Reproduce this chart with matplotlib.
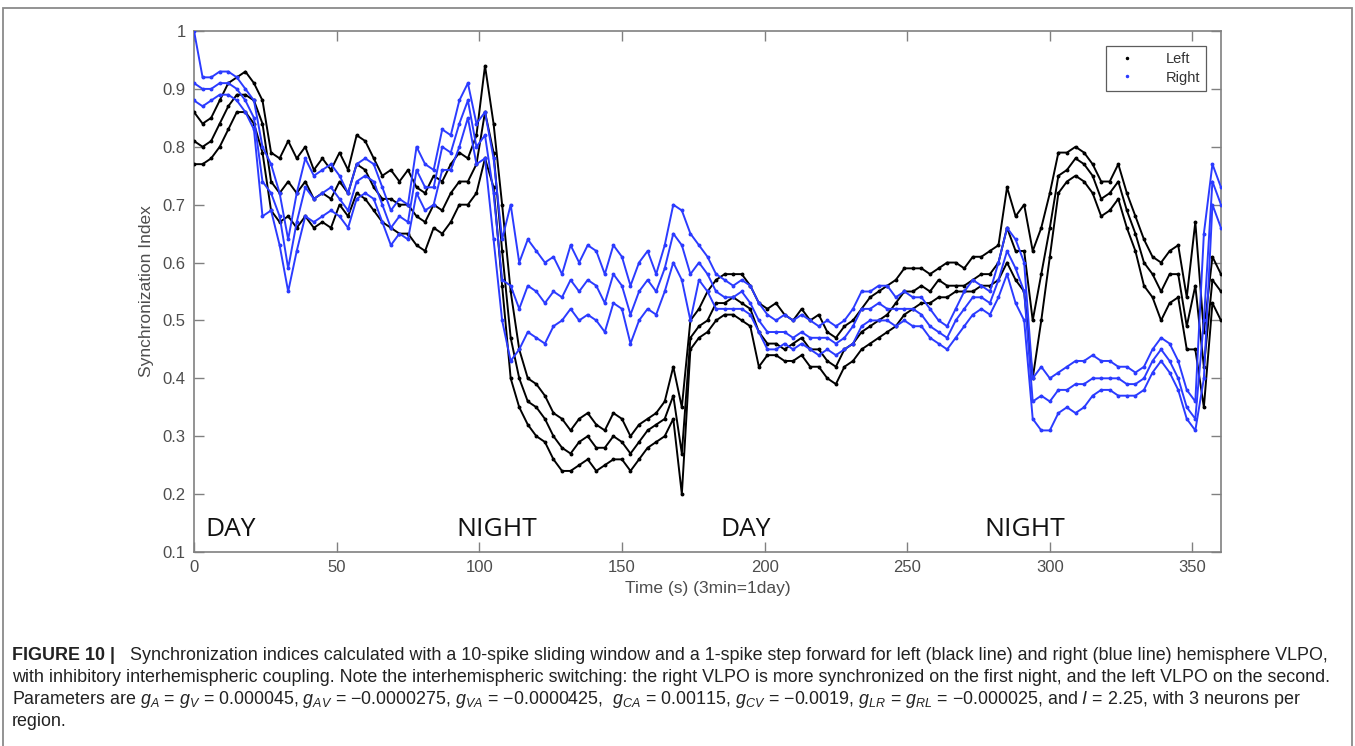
import matplotlib
matplotlib.use("Agg")
import matplotlib.pyplot as plt
from matplotlib.patches import Rectangle
import numpy as np

plt.rcParams["font.family"] = ["Liberation Sans", "DejaVu Sans"]
plt.rcParams["mathtext.fontset"] = "custom"
plt.rcParams["mathtext.rm"] = "Liberation Sans"
plt.rcParams["mathtext.it"] = "Liberation Sans:italic"

# ── data: synchronization index, every 3 s ───────────────────────────────
time_s = np.arange(0, 361, 3)

left_hi = [0.86, 0.84, 0.85, 0.88, 0.91, 0.92, 0.93, 0.91, 0.88, 0.79, 0.78, 0.81, 0.78, 0.80, 0.76, 0.78,
           0.76, 0.79, 0.76, 0.82, 0.81, 0.78, 0.75, 0.76, 0.74, 0.76, 0.73, 0.72, 0.75, 0.74, 0.77, 0.79,
           0.78, 0.82, 0.94, 0.84, 0.70, 0.55, 0.45, 0.40, 0.39, 0.37, 0.34, 0.33, 0.31, 0.33, 0.34, 0.32,
           0.31, 0.34, 0.33, 0.30, 0.32, 0.33, 0.34, 0.36, 0.42, 0.35, 0.50, 0.52, 0.55, 0.57, 0.58, 0.58,
           0.58, 0.56, 0.53, 0.52, 0.53, 0.51, 0.50, 0.52, 0.50, 0.51, 0.48, 0.47, 0.49, 0.50, 0.52, 0.54,
           0.55, 0.56, 0.57, 0.59, 0.59, 0.59, 0.58, 0.59, 0.60, 0.60, 0.59, 0.61, 0.61, 0.62, 0.63, 0.73,
           0.68, 0.70, 0.62, 0.66, 0.72, 0.79, 0.79, 0.80, 0.79, 0.77, 0.74, 0.74, 0.77, 0.72, 0.68, 0.64,
           0.61, 0.60, 0.62, 0.63, 0.54, 0.67, 0.48, 0.61, 0.58]
left_mid = [0.81, 0.80, 0.81, 0.84, 0.87, 0.89, 0.89, 0.88, 0.84, 0.74, 0.72, 0.74, 0.72, 0.74, 0.71, 0.72,
            0.71, 0.74, 0.72, 0.77, 0.76, 0.73, 0.71, 0.71, 0.70, 0.70, 0.68, 0.67, 0.70, 0.69, 0.72, 0.74,
            0.74, 0.77, 0.86, 0.79, 0.62, 0.47, 0.40, 0.36, 0.35, 0.33, 0.30, 0.28, 0.27, 0.29, 0.30, 0.28,
            0.28, 0.30, 0.29, 0.27, 0.29, 0.31, 0.32, 0.33, 0.37, 0.27, 0.47, 0.49, 0.50, 0.53, 0.53, 0.54,
            0.53, 0.52, 0.48, 0.46, 0.46, 0.45, 0.46, 0.47, 0.45, 0.45, 0.43, 0.42, 0.45, 0.46, 0.48, 0.49,
            0.50, 0.51, 0.53, 0.55, 0.55, 0.56, 0.55, 0.57, 0.56, 0.56, 0.56, 0.57, 0.58, 0.58, 0.60, 0.66,
            0.62, 0.62, 0.50, 0.58, 0.66, 0.75, 0.76, 0.78, 0.77, 0.75, 0.71, 0.72, 0.74, 0.69, 0.65, 0.60,
            0.58, 0.55, 0.58, 0.58, 0.49, 0.56, 0.42, 0.57, 0.55]
left_lo = [0.77, 0.77, 0.78, 0.80, 0.83, 0.86, 0.86, 0.84, 0.79, 0.69, 0.67, 0.68, 0.66, 0.68, 0.66, 0.67,
           0.66, 0.70, 0.68, 0.72, 0.71, 0.69, 0.67, 0.66, 0.65, 0.65, 0.63, 0.62, 0.66, 0.65, 0.67, 0.70,
           0.70, 0.72, 0.78, 0.73, 0.56, 0.40, 0.35, 0.32, 0.30, 0.29, 0.26, 0.24, 0.24, 0.25, 0.26, 0.24,
           0.25, 0.26, 0.26, 0.24, 0.26, 0.28, 0.29, 0.30, 0.33, 0.20, 0.45, 0.47, 0.48, 0.50, 0.51, 0.51,
           0.50, 0.49, 0.42, 0.44, 0.44, 0.43, 0.43, 0.44, 0.42, 0.42, 0.40, 0.39, 0.42, 0.43, 0.45, 0.46,
           0.47, 0.48, 0.49, 0.51, 0.52, 0.53, 0.53, 0.54, 0.54, 0.55, 0.55, 0.55, 0.56, 0.56, 0.57, 0.60,
           0.57, 0.55, 0.40, 0.50, 0.61, 0.72, 0.74, 0.75, 0.74, 0.72, 0.68, 0.69, 0.71, 0.66, 0.62, 0.56,
           0.54, 0.50, 0.53, 0.54, 0.45, 0.45, 0.35, 0.53, 0.50]

right_hi = [1.00, 0.92, 0.92, 0.93, 0.93, 0.92, 0.90, 0.88, 0.80, 0.77, 0.72, 0.64, 0.72, 0.78, 0.75, 0.76,
            0.77, 0.75, 0.72, 0.77, 0.78, 0.77, 0.73, 0.69, 0.71, 0.70, 0.80, 0.77, 0.76, 0.83, 0.82, 0.88,
            0.91, 0.84, 0.86, 0.78, 0.64, 0.70, 0.60, 0.64, 0.62, 0.60, 0.61, 0.58, 0.63, 0.60, 0.63, 0.62,
            0.58, 0.63, 0.61, 0.56, 0.60, 0.62, 0.58, 0.63, 0.70, 0.69, 0.65, 0.63, 0.61, 0.58, 0.57, 0.56,
            0.57, 0.56, 0.53, 0.51, 0.50, 0.51, 0.50, 0.51, 0.50, 0.49, 0.50, 0.49, 0.50, 0.52, 0.55, 0.55,
            0.56, 0.56, 0.54, 0.55, 0.54, 0.54, 0.52, 0.50, 0.49, 0.52, 0.55, 0.57, 0.56, 0.55, 0.60, 0.66,
            0.64, 0.60, 0.40, 0.42, 0.40, 0.41, 0.42, 0.43, 0.43, 0.44, 0.43, 0.43, 0.42, 0.42, 0.41, 0.42,
            0.45, 0.47, 0.46, 0.43, 0.38, 0.36, 0.65, 0.77, 0.73]
right_mid = [0.91, 0.90, 0.90, 0.91, 0.91, 0.90, 0.88, 0.85, 0.74, 0.72, 0.68, 0.59, 0.67, 0.73, 0.71, 0.72,
             0.73, 0.71, 0.69, 0.74, 0.75, 0.74, 0.70, 0.66, 0.68, 0.67, 0.76, 0.73, 0.73, 0.80, 0.79, 0.84,
             0.88, 0.80, 0.82, 0.72, 0.57, 0.56, 0.52, 0.56, 0.55, 0.53, 0.55, 0.54, 0.57, 0.55, 0.57, 0.56,
             0.53, 0.58, 0.56, 0.51, 0.55, 0.57, 0.55, 0.59, 0.65, 0.63, 0.58, 0.60, 0.58, 0.55, 0.54, 0.54,
             0.55, 0.53, 0.50, 0.48, 0.48, 0.48, 0.47, 0.48, 0.47, 0.47, 0.47, 0.46, 0.47, 0.49, 0.52, 0.52,
             0.53, 0.52, 0.52, 0.52, 0.52, 0.51, 0.49, 0.48, 0.47, 0.50, 0.52, 0.54, 0.54, 0.53, 0.57, 0.62,
             0.59, 0.55, 0.36, 0.37, 0.36, 0.38, 0.38, 0.39, 0.39, 0.40, 0.40, 0.40, 0.40, 0.39, 0.39, 0.40,
             0.43, 0.45, 0.43, 0.40, 0.35, 0.33, 0.50, 0.74, 0.70]
right_lo = [0.88, 0.87, 0.88, 0.89, 0.89, 0.88, 0.86, 0.83, 0.68, 0.69, 0.63, 0.55, 0.62, 0.68, 0.67, 0.68,
            0.69, 0.68, 0.66, 0.71, 0.72, 0.71, 0.67, 0.63, 0.65, 0.64, 0.72, 0.69, 0.70, 0.76, 0.76, 0.80,
            0.85, 0.77, 0.78, 0.64, 0.50, 0.43, 0.45, 0.48, 0.47, 0.46, 0.49, 0.50, 0.52, 0.50, 0.51, 0.50,
            0.48, 0.53, 0.52, 0.46, 0.50, 0.52, 0.51, 0.55, 0.60, 0.57, 0.50, 0.57, 0.55, 0.52, 0.52, 0.52,
            0.52, 0.51, 0.48, 0.45, 0.45, 0.46, 0.45, 0.46, 0.45, 0.44, 0.45, 0.44, 0.45, 0.46, 0.49, 0.50,
            0.50, 0.50, 0.49, 0.50, 0.49, 0.49, 0.47, 0.46, 0.45, 0.47, 0.49, 0.51, 0.52, 0.51, 0.54, 0.58,
            0.53, 0.50, 0.33, 0.31, 0.31, 0.34, 0.35, 0.34, 0.35, 0.37, 0.38, 0.38, 0.37, 0.37, 0.37, 0.38,
            0.41, 0.43, 0.41, 0.38, 0.33, 0.31, 0.40, 0.70, 0.66]

period_labels = ["DAY", "NIGHT", "DAY", "NIGHT"]
period_starts = [3.8, 91.8, 184.5, 277.2]

BLACK = "#000000"
BLUE = "#2b3bff"
AXIS_GRAY = "#808080"
TEXT_GRAY = "#4d4d4d"

fig = plt.figure(figsize=(13.55, 7.46), dpi=100)
ax = fig.add_axes([0.1432, 0.2601, 0.7579, 0.6983])

# ── traces: one dotted line per neuron (3 per hemisphere) ────────────────
for ys in (left_hi, left_mid, left_lo):
    ax.plot(time_s, ys, color=BLACK, lw=1.4, marker=".", ms=3.6, zorder=3)
for ys in (right_hi, right_mid, right_lo):
    ax.plot(time_s, ys, color=BLUE, lw=1.4, marker=".", ms=3.6, zorder=4)

# legend proxies
ax.plot([], [], ".", color=BLACK, ms=3, label="Left")
ax.plot([], [], ".", color=BLUE, ms=3, label="Right")
leg = ax.legend(loc="upper right", fontsize=10.5, frameon=True, fancybox=False,
                borderaxespad=1.0, borderpad=0.45, handletextpad=1.6, handlelength=2.0,
                labelspacing=0.3, markerscale=1.0)
leg.get_frame().set_edgecolor("#333333")
leg.get_frame().set_linewidth(0.9)
for txt in leg.get_texts():
    txt.set_color("#333333")

for lbl, t0 in zip(period_labels, period_starts):
    ax.text(t0, 0.128, lbl, fontsize=19, family=["Open Sans", "DejaVu Sans"],
            color="#111111", ha="left", va="baseline")

# ── axes styling (MATLAB-like box) ───────────────────────────────────────
ax.set_xlim(0, 360)
ax.set_ylim(0.1, 1.0)
ax.set_xticks(np.arange(0, 351, 50))
ax.set_yticks(np.round(np.arange(0.1, 1.01, 0.1), 1))
ax.set_yticklabels(["0.1", "0.2", "0.3", "0.4", "0.5", "0.6", "0.7", "0.8", "0.9", "1"])
ax.tick_params(direction="in", length=7, width=1.0, color=AXIS_GRAY,
               labelsize=12, labelcolor=TEXT_GRAY, top=True, right=True, pad=6)
for sp in ax.spines.values():
    sp.set_color(AXIS_GRAY)
    sp.set_linewidth(1.2)
ax.set_xlabel("Time (s) (3min=1day)", fontsize=12.5, color=TEXT_GRAY, labelpad=4)
ax.set_ylabel("Synchronization Index", fontsize=12.5, color=TEXT_GRAY, labelpad=6)

# ── figure frame and caption ─────────────────────────────────────────────
fig.patches.append(Rectangle((0.002, -0.01), 0.996, 0.999, transform=fig.transFigure,
                             fill=False, edgecolor="#8a8a8a", linewidth=1.3))

cap_kw = dict(fontsize=12.9, color="#222222", va="center", ha="left")
fig.text(12 / 1355, 1 - 655 / 746, "FIGURE 10 |", fontweight="bold", **cap_kw)
fig.text(130 / 1355, 1 - 655 / 746,
         "Synchronization indices calculated with a 10-spike sliding window and a 1-spike step "
         "forward for left (black line) and right (blue line) hemisphere VLPO,", **cap_kw)
fig.text(12 / 1355, 1 - 677 / 746,
         "with inhibitory interhemispheric coupling. Note the interhemispheric switching: the right "
         "VLPO is more synchronized on the first night, and the left VLPO on the second.", **cap_kw)
fig.text(12 / 1355, 1 - 700 / 746,
         "Parameters are $g_A$ = $g_V$ = 0.000045, $g_{AV}$ = \u22120.0000275, $g_{VA}$ = \u22120.0000425,  "
         "$g_{CA}$ = 0.00115, $g_{CV}$ = \u22120.0019, $g_{LR}$ = $g_{RL}$ = \u22120.000025, and $I$ = 2.25, "
         "with 3 neurons per", **cap_kw)
fig.text(12 / 1355, 1 - 722 / 746, "region.", **cap_kw)

fig.savefig("out.png", dpi=100)
